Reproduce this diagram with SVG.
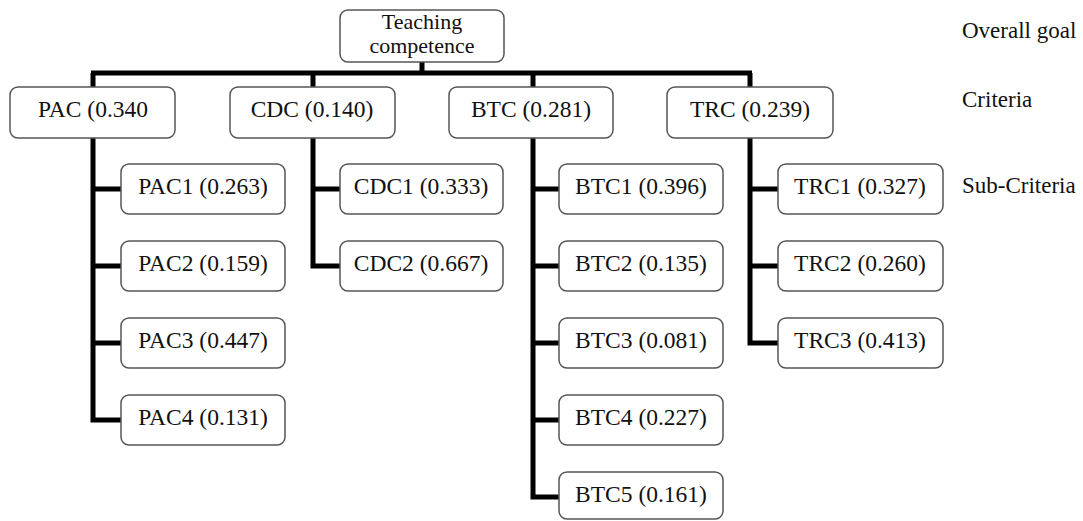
<svg xmlns="http://www.w3.org/2000/svg" width="1083" height="521" viewBox="0 0 1083 521">
<style>
.box{fill:#fff;stroke:#555;stroke-width:1.5}
.t{font-family:"Liberation Serif","Times New Roman",serif;font-size:23.5px;fill:#111;text-anchor:middle}
.g{font-size:22px}
.lbl{font-family:"Liberation Serif","Times New Roman",serif;font-size:23px;fill:#111}
.c{fill:none;stroke:#000;stroke-width:5;stroke-linejoin:miter;stroke-linecap:butt}
</style>
<rect width="1083" height="521" fill="#fff"/>
<g id="connectors">
<path class="c" d="M422,62V73M91,73H752M93,73V87M313,73V87M533,73V87M750,73V87"/>
<path class="c" d="M93,138V420H121M93,189H121M93,266H121M93,343H121"/>
<path class="c" d="M313,138V266H340M313,189H340"/>
<path class="c" d="M533,138V497H559M533,189H559M533,266H559M533,343H559M533,420H559"/>
<path class="c" d="M750,138V343H778M750,189H778M750,266H778"/>
</g>
<g id="goal"><rect class="box" x="340" y="10" width="164" height="52" rx="8"/><text class="t g" x="422" y="29">Teaching</text><text class="t g" x="422" y="53">competence</text></g>
<g id="PAC"><rect class="box" x="10" y="87" width="165" height="51" rx="8"/><text class="t" x="93" y="117">PAC (0.340</text></g>
<g id="CDC"><rect class="box" x="230" y="87" width="165" height="51" rx="8"/><text class="t" x="312" y="117">CDC (0.140)</text></g>
<g id="BTC"><rect class="box" x="449" y="87" width="164" height="51" rx="8"/><text class="t" x="531" y="117">BTC (0.281)</text></g>
<g id="TRC"><rect class="box" x="667" y="87" width="166" height="51" rx="8"/><text class="t" x="750" y="117">TRC (0.239)</text></g>
<g id="PAC1"><rect class="box" x="121" y="164" width="164" height="50" rx="8"/><text class="t" x="203" y="194">PAC1 (0.263)</text></g>
<g id="PAC2"><rect class="box" x="121" y="241" width="164" height="50" rx="8"/><text class="t" x="203" y="271">PAC2 (0.159)</text></g>
<g id="PAC3"><rect class="box" x="121" y="318" width="164" height="50" rx="8"/><text class="t" x="203" y="348">PAC3 (0.447)</text></g>
<g id="PAC4"><rect class="box" x="121" y="395" width="164" height="50" rx="8"/><text class="t" x="203" y="425">PAC4 (0.131)</text></g>
<g id="CDC1"><rect class="box" x="340" y="164" width="163" height="50" rx="8"/><text class="t" x="421" y="194">CDC1 (0.333)</text></g>
<g id="CDC2"><rect class="box" x="340" y="241" width="163" height="50" rx="8"/><text class="t" x="421" y="271">CDC2 (0.667)</text></g>
<g id="BTC1"><rect class="box" x="559" y="164" width="164" height="50" rx="8"/><text class="t" x="641" y="194">BTC1 (0.396)</text></g>
<g id="BTC2"><rect class="box" x="559" y="241" width="164" height="50" rx="8"/><text class="t" x="641" y="271">BTC2 (0.135)</text></g>
<g id="BTC3"><rect class="box" x="559" y="318" width="164" height="50" rx="8"/><text class="t" x="641" y="348">BTC3 (0.081)</text></g>
<g id="BTC4"><rect class="box" x="559" y="395" width="164" height="50" rx="8"/><text class="t" x="641" y="425">BTC4 (0.227)</text></g>
<g id="BTC5"><rect class="box" x="559" y="472" width="164" height="47" rx="8"/><text class="t" x="641" y="502">BTC5 (0.161)</text></g>
<g id="TRC1"><rect class="box" x="778" y="164" width="165" height="50" rx="8"/><text class="t" x="860" y="194">TRC1 (0.327)</text></g>
<g id="TRC2"><rect class="box" x="778" y="241" width="165" height="50" rx="8"/><text class="t" x="860" y="271">TRC2 (0.260)</text></g>
<g id="TRC3"><rect class="box" x="778" y="318" width="165" height="50" rx="8"/><text class="t" x="860" y="348">TRC3 (0.413)</text></g>
<g id="levels">
<text class="lbl" x="962" y="38">Overall goal</text>
<text class="lbl" x="962" y="107">Criteria</text>
<text class="lbl" x="962" y="193">Sub-Criteria</text>
</g>
</svg>
